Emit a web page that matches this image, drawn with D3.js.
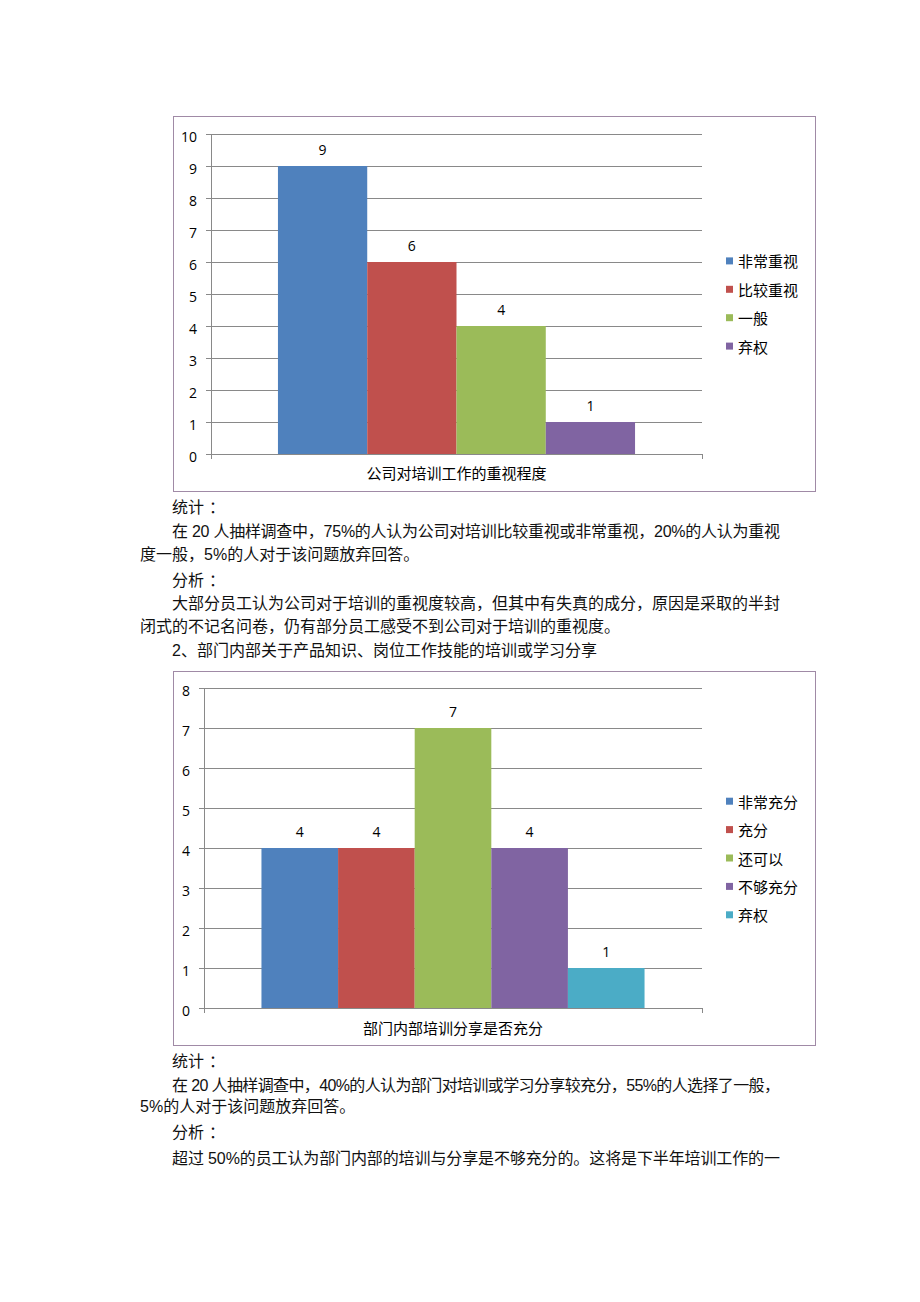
<!DOCTYPE html>
<html>
<head>
<meta charset="utf-8">
<script src="https://cdn.jsdelivr.net/npm/d3@7"></script>
<style>
  html, body { margin: 0; padding: 0; background: #fff; }
  svg { display: block; }
</style>
</head>
<body>
<svg id="page" width="920" height="1302"></svg>
<script>
// ---------------- DATA ----------------
const chart1Category = "公司对培训工作的重视程度";
const chart1Series = ["非常重视", "比较重视", "一般", "弃权"];
const chart1Values = [9, 6, 4, 1];
const chart1Ticks = [0, 1, 2, 3, 4, 5, 6, 7, 8, 9, 10];

const chart2Category = "部门内部培训分享是否充分";
const chart2Series = ["非常充分", "充分", "还可以", "不够充分", "弃权"];
const chart2Values = [4, 4, 7, 4, 1];
const chart2Ticks = [0, 1, 2, 3, 4, 5, 6, 7, 8];

const seriesColors = ["#4F81BD", "#C0504D", "#9BBB59", "#8064A2", "#4BACC6"];

const text1Lines = [
  "统计：",
  "在 20 人抽样调查中，75%的人认为公司对培训比较重视或非常重视，20%的人认为重视",
  "度一般，5%的人对于该问题放弃回答。",
  "分析：",
  "大部分员工认为公司对于培训的重视度较高，但其中有失真的成分，原因是采取的半封",
  "闭式的不记名问卷，仍有部分员工感受不到公司对于培训的重视度。",
  "2、部门内部关于产品知识、岗位工作技能的培训或学习分享"
];
const text2Lines = [
  "统计：",
  "在 20 人抽样调查中，40%的人认为部门对培训或学习分享较充分，55%的人选择了一般，",
  "5%的人对于该问题放弃回答。",
  "分析：",
  "超过 50%的员工认为部门内部的培训与分享是不够充分的。这将是下半年培训工作的一"
];

// ---------------- LAYOUT ----------------
const svg = d3.select("#page");
svg.append("rect").attr("width", 920).attr("height", 1302).attr("fill", "#fff");

const GRID = "#898989";
const FRAME = "#a08aa6";
const NUM_FONT = "'Open Sans', 'Liberation Sans', sans-serif";
const CJK_FONT = "'Noto Sans CJK SC', sans-serif";
const BODY_FONT = "'Liberation Sans', 'Noto Sans CJK SC', sans-serif";

function drawChart(cfg) {
  const g = svg.append("g");
  g.append("rect")
    .attr("x", cfg.frame.x + 0.5).attr("y", cfg.frame.y + 0.5)
    .attr("width", cfg.frame.w).attr("height", cfg.frame.h)
    .attr("fill", "#fff").attr("stroke", FRAME).attr("stroke-width", 1);

  const p = cfg.plot;
  const y = d3.scaleLinear()
    .domain([0, d3.max(cfg.ticks)])
    .range([p.bottom, p.top]);

  // Category band (Excel gap width 150% -> half gap on each side)
  const n = cfg.series.length;
  const gap = 1.5;
  const outer = d3.scaleBand()
    .domain([cfg.category])
    .range([p.left, p.right])
    .paddingInner(0)
    .paddingOuter(gap / 2 / n);
  const x0 = outer(cfg.category);
  const inner = d3.scaleBand()
    .domain(cfg.series)
    .range([x0, x0 + outer.bandwidth()]);

  const grid = g.append("g")
    .attr("transform", `translate(${p.left},0)`)
    .call(d3.axisLeft(y).tickValues(cfg.ticks.filter(t => t > 0)).tickSize(-(p.right - p.left)).tickFormat(""));
  grid.select(".domain").remove();
  grid.selectAll(".tick line").attr("stroke", GRID);

  const ya = g.append("g")
    .attr("transform", `translate(${p.left},0)`)
    .call(d3.axisLeft(y).tickValues(cfg.ticks).tickSize(5).tickPadding(9).tickFormat(d3.format("d")));
  ya.select(".domain").attr("stroke", GRID).attr("d", `M0.5,${p.top}V${p.bottom}`);
  ya.selectAll(".tick line").attr("stroke", GRID);
  ya.selectAll(".tick text")
    .attr("font-family", NUM_FONT).attr("font-size", 14).attr("fill", "#000")
    .attr("dy", "0.55em");

  g.append("g").selectAll("rect")
    .data(cfg.series.map((s, i) => ({ s, v: cfg.values[i], c: seriesColors[i] })))
    .join("rect")
    .attr("x", d => inner(d.s))
    .attr("y", d => y(d.v))
    .attr("width", inner.bandwidth())
    .attr("height", d => y(0) - y(d.v))
    .attr("fill", d => d.c);

  g.append("g").selectAll("text")
    .data(cfg.series.map((s, i) => ({ s, v: cfg.values[i] })))
    .join("text")
    .attr("x", d => inner(d.s) + inner.bandwidth() / 2)
    .attr("y", d => y(d.v) - 16.5)
    .attr("text-anchor", "middle")
    .attr("dominant-baseline", "central")
    .attr("font-family", NUM_FONT).attr("font-size", 14).attr("fill", "#000")
    .text(d => d.v);

  const xb = d3.scaleLinear().domain([0, 1]).range([p.left, p.right]);
  const xa = g.append("g")
    .attr("transform", `translate(0,${y(0)})`)
    .call(d3.axisBottom(xb).tickValues([0, 1]).tickSize(5).tickFormat(""));
  xa.select(".domain").attr("stroke", GRID).attr("d", `M${p.left},0.5H${p.right}`);
  xa.selectAll(".tick line").attr("stroke", GRID);

  g.append("text")
    .attr("x", outer(cfg.category) + outer.bandwidth() / 2)
    .attr("y", cfg.labelY)
    .attr("text-anchor", "middle")
    .attr("dominant-baseline", "central")
    .attr("font-family", CJK_FONT).attr("font-size", 15).attr("fill", "#000")
    .text(cfg.category);

  const step = 28.4;
  const ly0 = cfg.legendCY - step * (n - 1) / 2;
  const lg = g.append("g").selectAll("g")
    .data(cfg.series.map((s, i) => ({ s, c: seriesColors[i], i })))
    .join("g")
    .attr("transform", d => `translate(${cfg.legendX},${ly0 + d.i * step})`);
  lg.append("rect").attr("x", 0).attr("y", -3.5).attr("width", 7).attr("height", 7)
    .attr("fill", d => d.c);
  lg.append("text").attr("x", 12).attr("y", 0)
    .attr("dominant-baseline", "central")
    .attr("font-family", CJK_FONT).attr("font-size", 15).attr("fill", "#000")
    .text(d => d.s);
}

drawChart({
  category: chart1Category, series: chart1Series, values: chart1Values, ticks: chart1Ticks,
  frame: { x: 173, y: 116, w: 642, h: 375 },
  plot: { left: 211, right: 702, top: 134, bottom: 454 },
  labelY: 472, legendX: 726, legendCY: 303.5
});

drawChart({
  category: chart2Category, series: chart2Series, values: chart2Values, ticks: chart2Ticks,
  frame: { x: 173, y: 671, w: 642, h: 374 },
  plot: { left: 204, right: 702, top: 688, bottom: 1008 },
  labelY: 1027, legendX: 726, legendCY: 858
});

// ---------------- BODY TEXT ----------------
const LEFT = 140, INDENT = 172, RIGHT = 780;
function drawText(lines, layout) {
  svg.append("g").selectAll("text")
    .data(lines.map((t, i) => ({ t, ...layout[i] })))
    .join("text")
    .attr("x", d => d.indent ? INDENT : LEFT)
    .attr("y", d => d.y)
    .attr("dominant-baseline", "central")
    .attr("font-family", BODY_FONT).attr("font-size", 16).attr("fill", "#111")
    .each(function (d) {
      const el = d3.select(this);
      if (d.justify) {
        el.attr("textLength", RIGHT - (d.indent ? INDENT : LEFT))
          .attr("lengthAdjust", "spacing");
      }
      if (d.t.endsWith("：") && d.t.length <= 3) {
        // heading with a centred full-width colon
        el.append("tspan").text(d.t.slice(0, -1));
        el.append("tspan").attr("dx", 5).text("：");
      } else {
        el.text(d.t);
      }
    });
}
drawText(text1Lines, [
  { y: 507, indent: true },
  { y: 531, indent: true, justify: true },
  { y: 554, indent: false },
  { y: 580, indent: true },
  { y: 603, indent: true, justify: true },
  { y: 626, indent: false },
  { y: 650, indent: true }
]);
drawText(text2Lines, [
  { y: 1061, indent: true },
  { y: 1085, indent: true, justify: true },
  { y: 1106, indent: false },
  { y: 1132, indent: true },
  { y: 1158, indent: true, justify: true }
]);
</script>
</body>
</html>
